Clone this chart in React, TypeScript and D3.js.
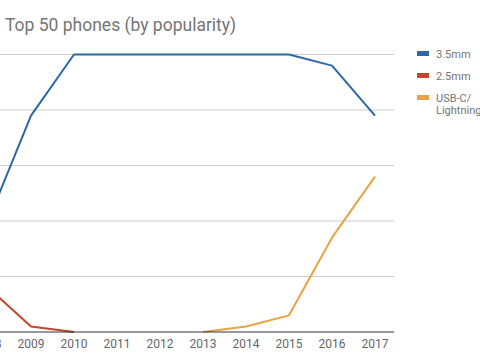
import React from "react";
import * as d3 from "d3";

const years = [2008, 2009, 2010, 2011, 2012, 2013, 2014, 2015, 2016, 2017];
const jack35: (number | null)[] = [20, 39, 50, 50, 50, 50, 50, 50, 48, 39];
const jack25: (number | null)[] = [8, 1, 0, null, null, null, null, null, null, null];
const usbc: (number | null)[] = [null, null, null, null, null, 0, 1, 3, 17, 28];
const yTicks = [0, 10, 20, 30, 40, 50];
const seriesNames = ["3.5mm", "2.5mm", "USB-C/\nLightning"];
const colors = ["#2e67a5", "#c1462b", "#e8a345"];

export default function App() {
  const x = d3.scaleLinear().domain([2008, 2017]).range([-12, 375]);
  const y = d3.scaleLinear().domain([0, 50]).range([332, 54.5]);
  const line = d3
    .line<[number, number | null]>()
    .defined((d) => d[1] !== null)
    .x((d) => x(d[0]))
    .y((d) => y(d[1] as number));
  const allSeries = [jack35, jack25, usbc];
  const font = "Roboto, 'Noto Sans', Arial, sans-serif";
  return (
    <svg
      width={480}
      height={360}
      style={{ position: "fixed", left: 0, top: 0, background: "#fff" }}
      fontFamily={font}
    >
      <rect x={0} y={0} width={480} height={360} fill="#fff" />
      <text x={5} y={30.5} fontSize={17.5} fill="#757575">
        Top 50 phones (by popularity)
      </text>
      {yTicks.filter((t) => t !== 0).map((t) => (
        <line key={t} x1={-40} x2={394} y1={y(t)} y2={y(t)} stroke="#cccccc" strokeWidth={1} />
      ))}
      {allSeries.map((s, i) => (
        <path
          key={i}
          d={line(years.map((yr, j) => [yr, s[j]]) as [number, number | null][]) || ""}
          fill="none"
          stroke={colors[i]}
          strokeWidth={2}
          strokeLinejoin="round"
        />
      ))}
      <line x1={-40} x2={394} y1={y(0)} y2={y(0)} stroke="#333333" strokeWidth={1} />
      {years.map((yr) => (
        <text key={yr} x={x(yr)} y={348} fontSize={12} fill="#666666" textAnchor="middle">
          {yr}
        </text>
      ))}
      {seriesNames.map((name, i) => {
        const ly = 53.5 + i * 22;
        const lines = name.split("\n");
        return (
          <g key={name}>
            <rect x={417} y={ly - 2.5} width={12} height={5} fill={colors[i]} />
            {lines.map((ln, k) => (
              <text key={k} x={436} y={ly + 4 + k * 12} fontSize={11} fill="#757575">
                {ln}
              </text>
            ))}
          </g>
        );
      })}
    </svg>
  );
}
